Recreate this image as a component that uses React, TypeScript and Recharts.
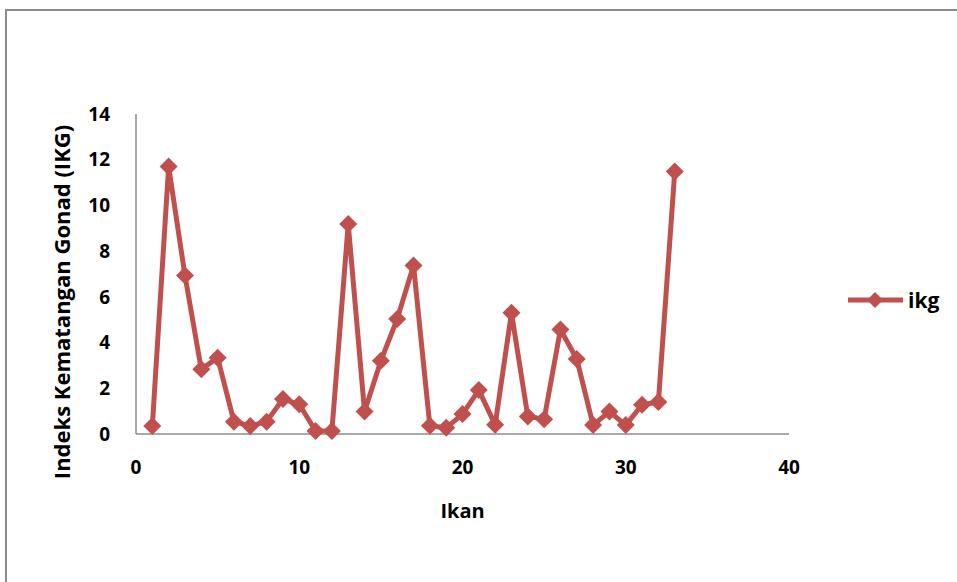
import { LineChart, Line, XAxis, YAxis } from "recharts";

// Ikan (fish no.) and IKG
const ikan = [
	1, 2, 3, 4, 5, 6, 7, 8, 9, 10, 11, 12, 13, 14, 15, 16, 17, 18, 19, 20, 21,
	22, 23, 24, 25, 26, 27, 28, 29, 30, 31, 32, 33,
];
const ikg = [
	0.35, 11.7, 6.93, 2.83, 3.34, 0.54, 0.35, 0.54, 1.53, 1.3, 0.13, 0.13, 9.19,
	0.98, 3.2, 5.03, 7.37, 0.36, 0.27, 0.87, 1.92, 0.4, 5.3, 0.77, 0.65, 4.57,
	3.28, 0.39, 0.98, 0.39, 1.28, 1.4, 11.48,
];
const xTicks = [0, 10, 20, 30, 40];
const yTicks = [0, 2, 4, 6, 8, 10, 12, 14];

const data = ikan.map((n, i) => ({ ikan: n, ikg: ikg[i] }));

const RED = "#C0504D";
const AXIS = "#8c8c8c";
const FONT = "'Open Sans', sans-serif";

function Diamond(props: any) {
	const { cx, cy, index } = props;
	if (cx == null || cy == null) return null;
	const r = 9;
	return (
		<polygon
			key={`d-${index}`}
			points={`${cx},${cy - r} ${cx + r},${cy} ${cx},${cy + r} ${cx - r},${cy}`}
			fill={RED}
		/>
	);
}

function LegendBox() {
	return (
		<div
			style={{
				position: "absolute",
				left: 846,
				top: 288,
				display: "flex",
				alignItems: "center",
				fontFamily: FONT,
			}}
		>
			<svg width={60} height={24}>
				<line x1={2} y1={12} x2={57} y2={12} stroke={RED} strokeWidth={5} />
				<polygon points="29,4 37,12 29,20 21,12" fill={RED} />
			</svg>
			<span
				style={{
					marginLeft: 2,
					fontSize: 21,
					fontWeight: 700,
					color: "#000",
					lineHeight: "24px",
				}}
			>
				ikg
			</span>
		</div>
	);
}

export default function App() {
	return (
		<div
			style={{
				position: "absolute",
				left: 0,
				top: 0,
				width: 957,
				height: 582,
				background: "#fff",
				overflow: "hidden",
			}}
		>
			<div
				style={{
					position: "absolute",
					left: 5,
					top: 9,
					width: 1000,
					height: 600,
					borderLeft: `2px solid ${AXIS}`,
					borderTop: `2px solid ${AXIS}`,
				}}
			/>
			<div style={{ position: "absolute", left: 0, top: 0 }}>
				<LineChart
					width={957}
					height={582}
					data={data}
					margin={{ top: 114, right: 168, bottom: 0, left: 0 }}
					style={{ fontFamily: FONT }}
				>
					<XAxis
						type="number"
						dataKey="ikan"
						domain={[0, 40]}
						ticks={xTicks}
						height={148}
						axisLine={{ stroke: AXIS, strokeWidth: 1.5 }}
						tickLine={false}
						tickSize={0}
						tickMargin={27}
						tick={{ fill: "#000", fontSize: 19, fontWeight: 700 }}
						label={(p: any) => {
							const vb = p.viewBox;
							return (
								<text
									x={vb.x + vb.width / 2}
									y={vb.y + 76}
									textAnchor="middle"
									dominantBaseline="central"
									fontSize={20}
									fontWeight={700}
									fill="#000"
								>
									Ikan
								</text>
							);
						}}
					/>
					<YAxis
						type="number"
						domain={[0, 14]}
						ticks={yTicks}
						width={136}
						axisLine={{ stroke: AXIS, strokeWidth: 1.5 }}
						tickLine={false}
						tickSize={0}
						tickMargin={26}
						tick={{ fill: "#000", fontSize: 19, fontWeight: 700 }}
						label={(p: any) => {
							const vb = p.viewBox;
							const cx = 61;
							const cy = vb.y + vb.height / 2 + 28;
							return (
								<text
									x={cx}
									y={cy}
									transform={`rotate(-90 ${cx} ${cy})`}
									textAnchor="middle"
									dominantBaseline="central"
									fontSize={22}
									fontWeight={700}
									fill="#000"
								>
									Indeks Kematangan Gonad (IKG)
								</text>
							);
						}}
					/>
					<Line
						type="linear"
						dataKey="ikg"
						name="ikg"
						stroke={RED}
						strokeWidth={5}
						dot={<Diamond />}
						activeDot={false}
						isAnimationActive={false}
					/>
				</LineChart>
			</div>
			<LegendBox />
		</div>
	);
}
